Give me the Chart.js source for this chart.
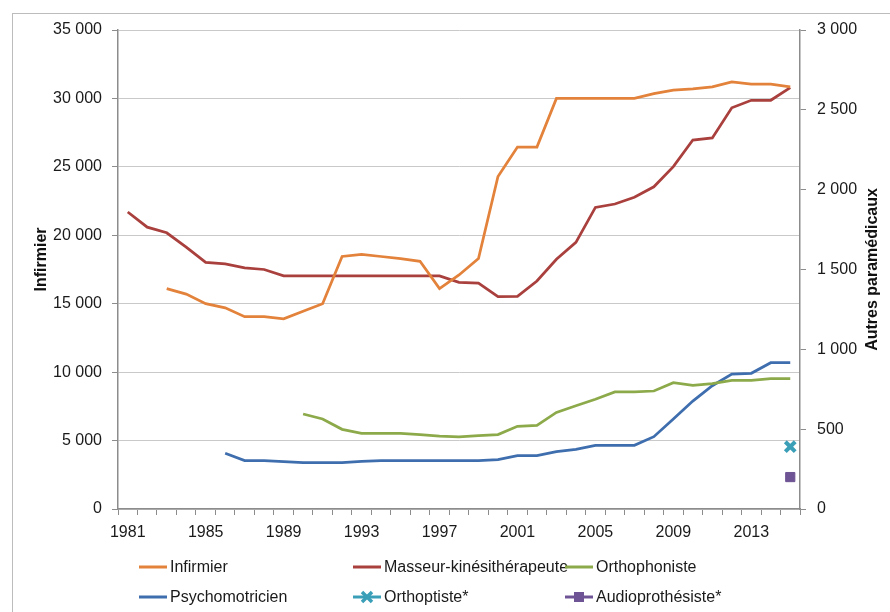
<!DOCTYPE html>
<html lang="fr">
<head>
<meta charset="utf-8">
<title>Quotas infirmiers et paramédicaux</title>
<script src="https://cdn.jsdelivr.net/npm/chart.js@4"></script>
<style>
  body { margin: 0; background: #fff; font-family: 'Liberation Sans', Arial, sans-serif; }
  #wrap { position: relative; width: 890px; height: 612px; overflow: hidden; }
  #frame { position: absolute; left: 12px; top: 13px; width: 900px; height: 620px; border: 1px solid #bcbcbc; }
  #chart { position: absolute; left: 0; top: 0; }
  #legend { position: absolute; left: 139px; top: 556px; display: grid;
            grid-template-columns: 214px 212px auto; row-gap: 8px; font-size: 16px; color: #1a1a1a; }
  .item { display: flex; align-items: center; height: 22px; white-space: nowrap; }
  .item canvas { margin-right: 3px; }
</style>
</head>
<body>
<div id="wrap">
  <div id="frame"></div>
  <canvas id="chart" width="890" height="612"></canvas>
  <div id="legend"></div>
</div>
<script>
// years on the x axis
const years = ['1981','1982','1983','1984','1985','1986','1987','1988','1989','1990',
  '1991','1992','1993','1994','1995','1996','1997','1998','1999','2000',
  '2001','2002','2003','2004','2005','2006','2007','2008','2009','2010',
  '2011','2012','2013','2014','2015'];

// left axis
const infirmier = [null, null, 16100, 15700, 15000, 14700, 14050, 14050, 13900, 14450,
  15000, 18450, 18600, 18450, 18300, 18100, 16100, 17100, 18300, 24300,
  26450, 26450, 30000, 30000, 30000, 30000, 30000, 30350, 30600, 30700,
  30850, 31200, 31050, 31050, 30850];

// right axis
const masseur = [1860, 1765, 1730, 1640, 1545, 1535, 1510, 1500, 1460, 1460,
  1460, 1460, 1460, 1460, 1460, 1460, 1460, 1420, 1415, 1330,
  1332, 1428, 1564, 1670, 1889, 1910, 1952, 2018, 2144, 2311,
  2324, 2513, 2560, 2560, 2639];
const orthophoniste = [null, null, null, null, null, null, null, null, null, 595,
  564, 499, 474, 474, 474, 466, 457, 451, 459, 466,
  518, 524, 605, 647, 687, 733, 733, 739, 791, 775,
  785, 806, 806, 816, 816];
const psychomotricien = [null, null, null, null, null, 349, 303, 303, 296, 290,
  290, 290, 299, 303, 303, 303, 303, 303, 303, 309,
  334, 334, 359, 374, 399, 399, 399, 453, 564, 676,
  772, 845, 850, 916, 916];
const orthoptiste = [{ x: '2015', y: 390 }];
const audioprothesiste = [{ x: '2015', y: 200 }];

const FONT = "'Liberation Sans', Arial, sans-serif";
const fmt = v => String(v).replace(/\B(?=(\d{3})+(?!\d))/g, ' ');

const datasets = [
  { label: 'Infirmier', data: infirmier, borderColor: '#E3823A', yAxisID: 'y' },
  { label: 'Masseur-kinésithérapeute', data: masseur, borderColor: '#A9403D', yAxisID: 'y1' },
  { label: 'Orthophoniste', data: orthophoniste, borderColor: '#8DAA4B', yAxisID: 'y1' },
  { label: 'Psychomotricien', data: psychomotricien, borderColor: '#3F6EAE', yAxisID: 'y1' },
  { label: 'Orthoptiste*', data: orthoptiste, borderColor: '#3B9FB8', yAxisID: 'y1',
    pointStyle: 'crossRot', pointRadius: 7, pointBorderWidth: 4, marker: 'x' },
  { label: 'Audioprothésiste*', data: audioprothesiste, borderColor: '#6E5494', backgroundColor: '#6E5494',
    yAxisID: 'y1', pointStyle: 'rect', pointRadius: 6.5, pointBorderWidth: 1, marker: 'square' }
];
datasets.forEach(d => {
  d.borderWidth = 2.75;
  d.fill = false;
  d.tension = 0;
  if (d.pointRadius === undefined) d.pointRadius = 0;
  d.pointHoverRadius = d.pointRadius;
  d.pointBorderColor = d.borderColor;
  d.pointBackgroundColor = d.borderColor;
});

// axis titles, both read bottom to top
const axisTitles = {
  id: 'axisTitles',
  afterDraw(chart) {
    const { ctx, chartArea } = chart;
    const mid = (chartArea.top + chartArea.bottom) / 2;
    ctx.save();
    ctx.font = 'bold 16px ' + FONT;
    ctx.fillStyle = '#111';
    ctx.textAlign = 'center';
    ctx.textBaseline = 'middle';
    [[chartArea.left - 76, mid - 10, 'Infirmier'],
     [chartArea.right + 73, mid, 'Autres paramédicaux']].forEach(([x, y, t]) => {
      ctx.save();
      ctx.translate(x, y);
      ctx.rotate(-Math.PI / 2);
      ctx.fillText(t, 0, 0);
      ctx.restore();
    });
    ctx.restore();
  }
};

const tickFont = { family: FONT, size: 16 };
const axisGrey = '#8c8c8c';

new Chart(document.getElementById('chart'), {
  type: 'line',
  data: { labels: years, datasets: datasets },
  options: {
    responsive: false,
    animation: false,
    spanGaps: false,
    layout: { padding: { top: 30, left: 0, right: 0, bottom: 0 } },
    plugins: { legend: { display: false }, tooltip: { enabled: false } },
    scales: {
      x: {
        type: 'category',
        offset: true,
        grid: { offset: true, drawOnChartArea: false, drawTicks: true, tickLength: 6, color: axisGrey },
        border: { color: axisGrey, width: 1.5 },
        ticks: {
          autoSkip: false, maxRotation: 0, padding: 8, font: tickFont, color: '#1a1a1a',
          callback: function (v, i) { return i % 4 === 0 ? this.getLabelForValue(v) : ''; }
        },
        afterFit: s => { s.height = 103; }
      },
      y: {
        position: 'left', min: 0, max: 35000,
        grid: { color: '#c9c9c9', tickColor: axisGrey, tickLength: 6 },
        border: { color: axisGrey, width: 1.5 },
        ticks: { stepSize: 5000, padding: 10, font: tickFont, color: '#1a1a1a', callback: v => fmt(v) },
        afterFit: s => { s.width = 118; }
      },
      y1: {
        position: 'right', min: 0, max: 3000,
        grid: { drawOnChartArea: false, tickColor: axisGrey, tickLength: 6 },
        border: { color: axisGrey, width: 1.5 },
        ticks: { stepSize: 500, padding: 11, font: tickFont, color: '#1a1a1a', callback: v => fmt(v) },
        afterFit: s => { s.width = 90; }
      }
    }
  },
  plugins: [axisTitles]
});

// legend laid out in a 3-column grid like the original
const legend = document.getElementById('legend');
datasets.forEach(d => {
  const item = document.createElement('div');
  item.className = 'item';
  const sw = document.createElement('canvas');
  sw.width = 28; sw.height = 14;
  const c = sw.getContext('2d');
  c.strokeStyle = d.borderColor;
  c.lineWidth = 3;
  c.beginPath(); c.moveTo(0, 7); c.lineTo(28, 7); c.stroke();
  if (d.marker === 'x') {
    c.lineWidth = 3.5;
    c.beginPath();
    c.moveTo(9, 2); c.lineTo(19, 12);
    c.moveTo(19, 2); c.lineTo(9, 12);
    c.stroke();
  } else if (d.marker === 'square') {
    c.fillStyle = d.borderColor;
    c.fillRect(9, 2, 10, 10);
  }
  const txt = document.createElement('span');
  txt.textContent = d.label;
  item.appendChild(sw);
  item.appendChild(txt);
  legend.appendChild(item);
});
</script>
</body>
</html>
